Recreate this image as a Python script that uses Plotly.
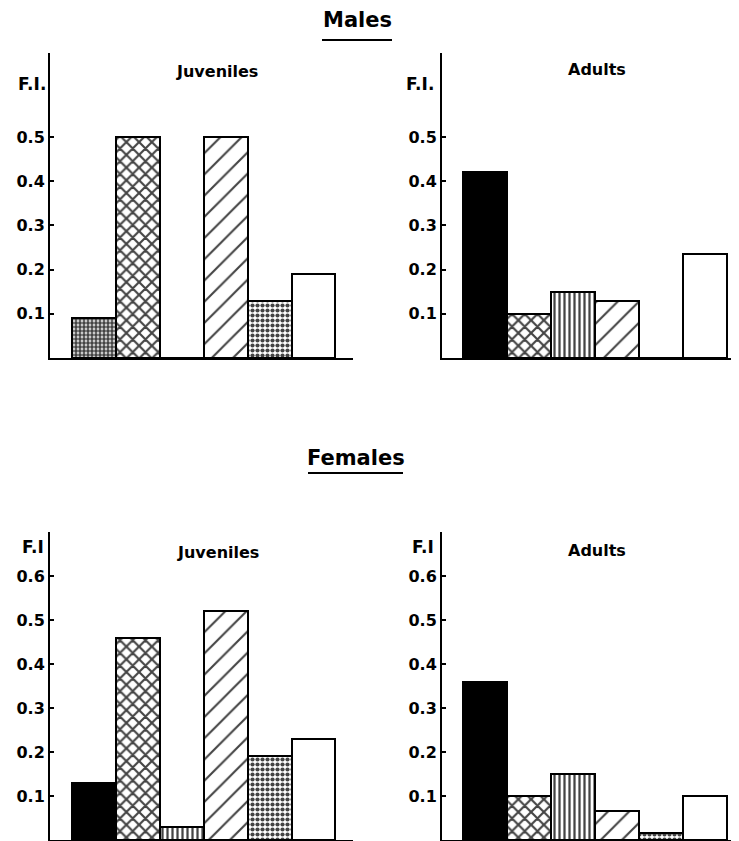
import plotly.graph_objects as go

# six food categories (bars drawn left to right in every panel)
food_items = [1, 2, 3, 4, 5, 6]
fill_colors = ["black", "white", "white", "white", "white", "white"]
pattern_shapes = ["", "x", "|", "/", ".", ""]

# F.I. values
males_juveniles = [0.09, 0.50, 0.0, 0.50, 0.13, 0.19]
males_adults = [0.42, 0.10, 0.15, 0.13, 0.0, 0.235]
females_juveniles = [0.13, 0.46, 0.03, 0.52, 0.19, 0.23]
females_adults = [0.36, 0.10, 0.15, 0.065, 0.015, 0.10]

males_ticks = [0.1, 0.2, 0.3, 0.4, 0.5]
females_ticks = [0.1, 0.2, 0.3, 0.4, 0.5, 0.6]

# the page body has an 8px default margin; lay out in window pixels
OFF = 8
W, H = 739 - OFF, 841 - OFF
FONT = "DejaVu Sans"


def px(x):
    return (x - OFF) / W


def py(y):
    return 1 - (y - OFF) / H


fig = go.Figure()

pattern_sizes = [8, 9, 5, 15, 5, 8]
pattern_solid = [0.3, 0.42, 0.45, 0.14, 0.55, 0.3]

panels = [
    (males_juveniles, "x", "y", (50, 353), (53, 358), [0.0, 6.9], [0, 0.69], males_ticks, True),
    (males_adults, "x2", "y2", (442, 739), (53, 358), [0.02, 6.77], [0, 0.69], males_ticks, False),
    (females_juveniles, "x3", "y3", (50, 353), (532, 840), [0.0, 6.9], [0, 0.70], females_ticks, False),
    (females_adults, "x4", "y4", (442, 739), (532, 840), [0.02, 6.77], [0, 0.70], females_ticks, False),
]

layout_axes = {}
for vals, xa, ya, xd, yd, xr, yr, ticks, grey_first in panels:
    colors = list(fill_colors)
    shapes = list(pattern_shapes)
    sizes = list(pattern_sizes)
    solid = list(pattern_solid)
    if grey_first:
        colors[0] = "white"
        shapes[0] = "."
        sizes[0] = 4
        solid[0] = 0.7
    fig.add_trace(go.Bar(
        x=food_items, y=vals, xaxis=xa, yaxis=ya, width=1.0,
        marker=dict(
            color=colors,
            line=dict(color="black", width=2),
            pattern=dict(shape=shapes, fgcolor="black", fgopacity=1,
                         size=sizes, solidity=solid),
        ),
        showlegend=False, hoverinfo="skip",
    ))
    xkey = "xaxis" if xa == "x" else "xaxis" + xa[1:]
    ykey = "yaxis" if ya == "y" else "yaxis" + ya[1:]
    layout_axes[xkey] = dict(
        domain=[px(xd[0]), min(1.0, px(xd[1]))], range=xr, anchor=ya,
        showline=True, linecolor="black", linewidth=2, automargin=False,
        showticklabels=False, ticks="", showgrid=False, zeroline=False,
    )
    layout_axes[ykey] = dict(
        domain=[max(0.0, py(yd[1])), py(yd[0])], range=yr, anchor=xa,
        showline=True, linecolor="black", linewidth=2, automargin=False,
        tickvals=ticks, ticktext=[f"{t:.1f}" for t in ticks],
        ticks="inside", ticklen=4, tickwidth=1.5, tickcolor="black",
        showgrid=False, zeroline=False,
        tickfont=dict(family=FONT, size=16, color="black", weight="bold"),
    )

fig.update_layout(
    width=W, height=H, margin=dict(l=0, r=0, t=0, b=0),
    paper_bgcolor="white", plot_bgcolor="white", bargap=0,
    **layout_axes,
)

annotations = [
    ("Males", 357, 20, 21),
    ("Females", 356, 458, 21),
    ("Juveniles", 217, 72, 16),
    ("Adults", 597, 69, 16),
    ("Juveniles", 218, 552, 16),
    ("Adults", 597, 550, 16),
    ("F.I.", 32, 84, 17),
    ("F.I.", 420, 84, 17),
    ("F.I", 33, 547, 17),
    ("F.I", 423, 547, 17),
]
for text, x, y, s in annotations:
    fig.add_annotation(
        text=text, x=px(x), y=py(y), xref="paper", yref="paper",
        showarrow=False, xanchor="center", yanchor="middle",
        font=dict(family=FONT, size=s, color="black", weight="bold"),
    )

# title underlines
for x0, x1, y in [(322, 392, 40), (308, 403, 473)]:
    fig.add_shape(type="line", xref="paper", yref="paper",
                  x0=px(x0), x1=px(x1), y0=py(y), y1=py(y),
                  line=dict(color="black", width=2))

fig.write_html("out.html")
